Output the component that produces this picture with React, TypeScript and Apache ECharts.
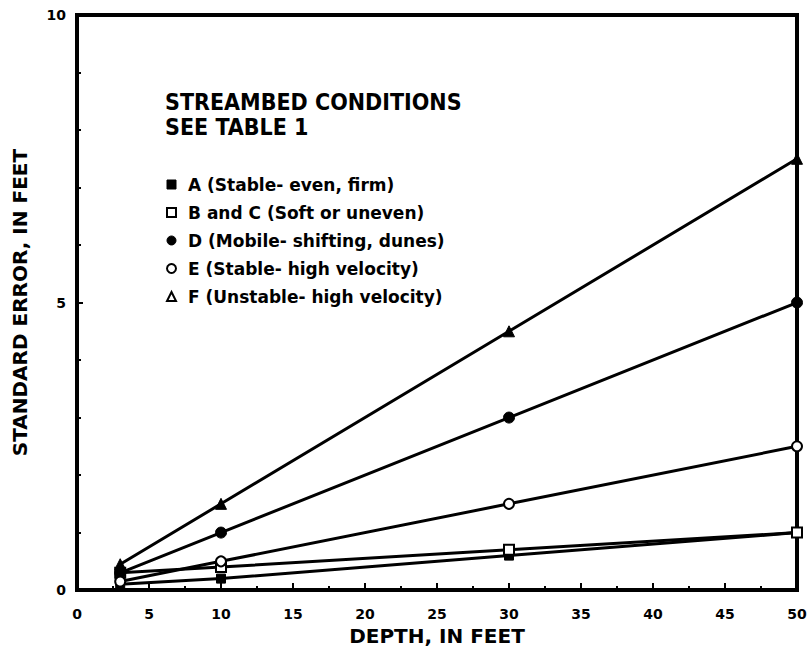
import React, { useEffect, useRef } from "react";
import * as echarts from "echarts";

const depths = [3, 10, 30, 50];
const seriesA = [0.1, 0.2, 0.6, 1.0];
const seriesBC = [0.3, 0.4, 0.7, 1.0];
const seriesD = [0.3, 1.0, 3.0, 5.0];
const seriesE = [0.15, 0.5, 1.5, 2.5];
const seriesF = [0.45, 1.5, 4.5, 7.5];
const seriesNames = [
  "A (Stable- even, firm)",
  "B and C (Soft or uneven)",
  "D (Mobile- shifting, dunes)",
  "E (Stable- high velocity)",
  "F (Unstable- high velocity)",
];
const titleLines = ["STREAMBED CONDITIONS", "SEE TABLE 1"];
const xName = "DEPTH, IN FEET";
const yName = "STANDARD ERROR, IN FEET";

const condensed = "'DejaVu Sans Condensed', 'Liberation Sans Narrow', 'DejaVu Sans', sans-serif";
const bold = "'DejaVu Sans', 'Noto Sans', sans-serif";

export default function App() {
  const ref = useRef<HTMLDivElement>(null);
  useEffect(() => {
    if (!ref.current) return;
    const chart = echarts.init(ref.current, null, { renderer: "svg" });
    const filled = { color: "#000", borderColor: "#000", borderWidth: 1 };
    const empty = { color: "#fff", borderColor: "#000", borderWidth: 2 };
    const mk = (name: string, vals: number[], symbol: string, size: number, style: any) => ({
      name,
      type: "line",
      data: depths.map((d, i) => [d, vals[i]]),
      symbol,
      symbolSize: size,
      showAllSymbol: true,
      lineStyle: { color: "#000", width: 3 },
      itemStyle: style,
      z: 3,
    });
    chart.setOption({
      animation: false,
      backgroundColor: "#fff",
      grid: {
        left: 77,
        right: 14,
        top: 15,
        bottom: 59,
        show: true,
        borderColor: "#000",
        borderWidth: 4,
      },
      xAxis: {
        type: "value",
        min: 0,
        max: 50,
        interval: 5,
        name: xName,
        nameLocation: "middle",
        nameGap: 35,
        nameTextStyle: { fontFamily: bold, fontWeight: "bold", fontSize: 20, color: "#000" },
        axisLine: { show: true, lineStyle: { color: "#000", width: 4 } },
        axisTick: { show: true, inside: true, length: 7, lineStyle: { color: "#000", width: 2 } },
        minorTick: { show: true, splitNumber: 2, length: 4, lineStyle: { color: "#000", width: 2 } },
        splitLine: { show: false },
        axisLabel: { fontFamily: bold, fontWeight: "bold", fontSize: 14, color: "#000", margin: 17 },
      },
      yAxis: {
        type: "value",
        min: 0,
        max: 10,
        interval: 5,
        name: yName,
        nameLocation: "middle",
        nameGap: 47,
        nameTextStyle: { fontFamily: bold, fontWeight: "bold", fontSize: 20, color: "#000" },
        axisLine: { show: true, lineStyle: { color: "#000", width: 4 } },
        axisTick: { show: true, inside: true, length: 6, lineStyle: { color: "#000", width: 2 } },
        minorTick: { show: true, splitNumber: 5, length: 4, lineStyle: { color: "#000", width: 2 } },
        splitLine: { show: false },
        axisLabel: { fontFamily: bold, fontWeight: "bold", fontSize: 14, color: "#000", margin: 11 },
      },
      legend: {
        orient: "vertical",
        left: 161,
        top: 171,
        itemGap: 11,
        itemWidth: 9,
        itemHeight: 9,
        textStyle: { fontFamily: bold, fontWeight: "bold", fontSize: 17, color: "#000", padding: [0, 0, 0, 7] },
        data: [
          { name: seriesNames[0], icon: "rect", itemStyle: filled },
          { name: seriesNames[1], icon: "rect", itemStyle: empty },
          { name: seriesNames[2], icon: "circle", itemStyle: filled },
          { name: seriesNames[3], icon: "circle", itemStyle: empty },
          { name: seriesNames[4], icon: "triangle", itemStyle: empty },
        ],
      },
      graphic: [
        {
          type: "text",
          left: 165,
          top: 90,
          style: {
            text: titleLines[0],
            fontFamily: condensed,
            fontWeight: "bold",
            fontSize: 23,
            fill: "#000",
          },
        },
        {
          type: "text",
          left: 165,
          top: 115,
          style: {
            text: titleLines[1],
            fontFamily: condensed,
            fontWeight: "bold",
            fontSize: 23,
            fill: "#000",
          },
        },
      ],
      series: [
        mk(seriesNames[0], seriesA, "rect", 9, filled),
        mk(seriesNames[1], seriesBC, "rect", 10, empty),
        mk(seriesNames[2], seriesD, "circle", 11, filled),
        mk(seriesNames[3], seriesE, "circle", 10, empty),
        mk(seriesNames[4], seriesF, "triangle", 11, filled),
      ],
    });
    return () => chart.dispose();
  }, []);
  return (
    <div
      ref={ref}
      style={{ position: "absolute", left: 0, top: 0, width: 811, height: 651 }}
    />
  );
}
